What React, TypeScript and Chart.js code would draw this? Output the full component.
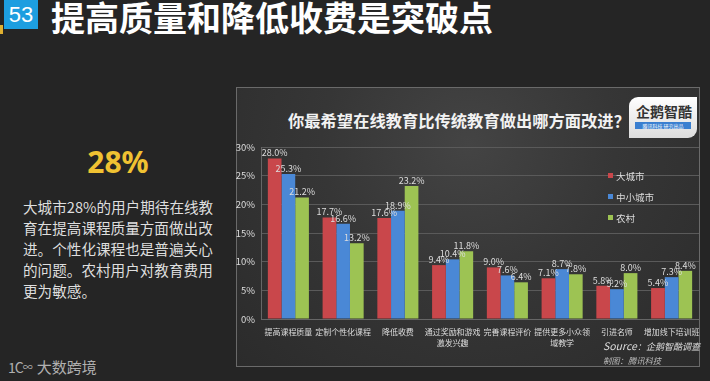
import React, { useEffect, useRef } from "react";
import { Chart, registerables } from "chart.js";

Chart.register(...registerables);

const categories: string[][] = [
  ["提高课程质量"],
  ["定制个性化课程"],
  ["降低收费"],
  ["通过奖励和游戏", "激发兴趣"],
  ["完善课程评价"],
  ["提供更多小众领", "域教学"],
  ["引进名师"],
  ["增加线下培训班"],
];
const seriesNames = ["大城市", "中小城市", "农村"];
const bigCity = [28.0, 17.7, 17.6, 9.4, 9.0, 7.1, 5.8, 5.4];
const smallCity = [25.3, 16.6, 18.9, 10.4, 7.6, 8.7, 5.2, 7.3];
const rural = [21.2, 13.2, 23.2, 11.8, 6.4, 7.8, 8.0, 8.4];
const yMax = 30;
const yStep = 5;

const colors = ["#c9474b", "#4a88d6", "#9dc353"];
const FONT = '"Noto Sans CJK SC", "Noto Sans", sans-serif';

const labelPlugin = {
  id: "barLabels",
  afterDatasetsDraw(chart: any) {
    const ctx = chart.ctx;
    ctx.save();
    ctx.font = `9px ${FONT}`;
    ctx.fillStyle = "#dddddd";
    ctx.textAlign = "center";
    ctx.textBaseline = "bottom";
    chart.data.datasets.forEach((ds: any, i: number) => {
      chart.getDatasetMeta(i).data.forEach((bar: any, j: number) => {
        ctx.fillText(Number(ds.data[j]).toFixed(1) + "%", bar.x, bar.y - 1);
      });
    });
    ctx.restore();
  },
};

function BarChart() {
  const ref = useRef<HTMLCanvasElement | null>(null);
  useEffect(() => {
    if (!ref.current) return;
    const seriesData = [bigCity, smallCity, rural];
    const chart = new Chart(ref.current, {
      type: "bar",
      data: {
        labels: categories,
        datasets: seriesNames.map((name, i) => ({
          label: name,
          data: seriesData[i],
          backgroundColor: colors[i],
          borderWidth: 0,
          categoryPercentage: 0.75,
          barPercentage: 1.0,
        })),
      },
      options: {
        responsive: false,
        animation: false,
        maintainAspectRatio: false,
        layout: { padding: { top: 60, left: 0, right: 1, bottom: 0 } },
        plugins: {
          legend: { display: false },
          title: { display: false },
          tooltip: { enabled: false },
        },
        scales: {
          x: {
            grid: { display: false, drawTicks: false },
            border: { display: true, color: "#666666" },
            ticks: {
              color: "#dddddd",
              font: { family: FONT, size: 8, lineHeight: 1.45 },
              padding: 7,
              maxRotation: 0,
              autoSkip: false,
            },
            afterFit(scale: any) {
              scale.height = 48;
              scale.paddingLeft = 0;
              scale.paddingRight = 0;
            },
          },
          y: {
            min: 0,
            max: yMax,
            grid: { color: "#5a5a5a", drawTicks: false },
            border: { display: true, color: "#666666" },
            ticks: {
              stepSize: yStep,
              color: "#dddddd",
              font: { family: FONT, size: 9.5 },
              padding: 6,
              callback: (v: any) => v + "%",
            },
            afterFit(scale: any) {
              scale.width = 25;
              scale.paddingTop = 0;
              scale.paddingBottom = 0;
            },
          },
        },
      },
      plugins: [labelPlugin],
    });
    return () => chart.destroy();
  }, []);
  return (
    <canvas
      ref={ref}
      width={464}
      height={280}
      style={{ position: "absolute", left: 236, top: 87, width: 464, height: 280 }}
    />
  );
}

export default function App() {
  useEffect(() => {
    document.body.style.margin = "0";
  }, []);
  const abs = (s: React.CSSProperties): React.CSSProperties => ({ position: "absolute", ...s });
  return (
    <div
      style={{
        position: "absolute",
        left: 0,
        top: 0,
        width: 710,
        height: 381,
        overflow: "hidden",
        background: "#252525",
        fontFamily: FONT,
      }}
    >
      {/* slide number badge */}
      <div style={abs({ left: 0, top: 25, width: 3, height: 9, background: "#e0b030" })} />
      <div
        style={abs({
          left: 4,
          top: 0,
          width: 34,
          height: 29,
          background: "#1d9ee0",
          color: "#fff",
          fontSize: 22,
          lineHeight: "29px",
          textAlign: "center",
          fontFamily: '"Liberation Sans", Arial, sans-serif',
        })}
      >
        53
      </div>
      <div
        style={abs({
          left: 51,
          top: -4,
          fontSize: 34,
          lineHeight: "42px",
          fontWeight: 700,
          color: "#ffffff",
          whiteSpace: "nowrap",
        })}
      >
        提高质量和降低收费是突破点
      </div>

      {/* left text */}
      <div
        style={abs({
          left: 0,
          width: 236,
          top: 143,
          textAlign: "center",
          fontSize: 30,
          lineHeight: "38px",
          fontWeight: 700,
          color: "#f0c232",
          fontFamily: '"Noto Sans", "DejaVu Sans", sans-serif',
        })}
      >
        28%
      </div>
      <div
        style={abs({
          left: 23,
          top: 196,
          fontSize: 14.6,
          lineHeight: "21px",
          color: "#dedede",
          whiteSpace: "nowrap",
        })}
      >
        大城市28%的用户期待在线教
        <br />
        育在提高课程质量方面做出改
        <br />
        进。个性化课程也是普遍关心
        <br />
        的问题。农村用户对教育费用
        <br />
        更为敏感。
      </div>

      {/* bottom-left logo */}
      <div style={abs({ left: 8, top: 357, color: "#b0b0b0", fontSize: 15, lineHeight: "20px", whiteSpace: "nowrap" })}>
        <span style={{ fontSize: 14, letterSpacing: -1 }}>1C</span>
        <span style={{ fontSize: 10, verticalAlign: "top", marginRight: 4 }}>∞</span>
        大数跨境
      </div>

      {/* chart panel */}
      <div
        style={abs({
          left: 236,
          top: 87,
          width: 462,
          height: 278,
          border: "1px solid #6a6a6a",
          background: "radial-gradient(ellipse at 50% 20%, #444444 0%, #363636 45%, #2b2b2b 100%)",
        })}
      />
      <div
        style={abs({
          left: 288,
          top: 108,
          fontSize: 16.3,
          lineHeight: "24px",
          fontWeight: 700,
          color: "#f2f2f2",
          whiteSpace: "nowrap",
        })}
      >
        你最希望在线教育比传统教育做出哪方面改进？
      </div>
      {/* logo box */}
      <div
        style={abs({
          left: 629,
          top: 97,
          width: 68,
          height: 41,
          borderRadius: "9px 0 9px 0",
          background: "linear-gradient(#ffffff, #dcdcdc)",
        })}
      >
        <div
          style={abs({
            left: 4,
            top: 5,
            width: 62,
            fontSize: 14,
            lineHeight: "18px",
            color: "#333",
            textAlign: "center",
            fontWeight: 700,
            whiteSpace: "nowrap",
          })}
        >
          企鹅智酷
        </div>
        <div
          style={abs({
            left: 6,
            top: 25,
            width: 56,
            height: 7,
            background: "#3a7fd0",
            color: "#fff",
            fontSize: 5,
            lineHeight: "7px",
            textAlign: "center",
            whiteSpace: "nowrap",
          })}
        >
          腾讯科技 研究出品
        </div>
      </div>

      <BarChart />

      {/* legend */}
      {seriesNames.map((n, i) => (
        <div key={n} style={abs({ left: 608, top: 161 + i * 21, height: 14, whiteSpace: "nowrap" })}>
          <span
            style={{
              display: "inline-block",
              width: 5,
              height: 5,
              background: colors[i],
              marginRight: 3,
              verticalAlign: "middle",
            }}
          />
          <span style={{ fontSize: 9.5, lineHeight: "14px", color: "#dddddd", verticalAlign: "middle" }}>{n}</span>
        </div>
      ))}

      {/* source */}
      <div
        style={abs({
          left: 603,
          top: 339,
          fontSize: 9,
          lineHeight: "14px",
          color: "#dddddd",
          fontStyle: "italic",
          whiteSpace: "nowrap",
        })}
      >
        <span style={{ fontSize: 10.5 }}>Source</span>：企鹅智酷调查
      </div>
      <div
        style={abs({
          left: 603,
          top: 353,
          fontSize: 8.3,
          lineHeight: "14px",
          color: "#bbbbbb",
          fontStyle: "italic",
          whiteSpace: "nowrap",
        })}
      >
        制图：腾讯科技
      </div>
    </div>
  );
}
